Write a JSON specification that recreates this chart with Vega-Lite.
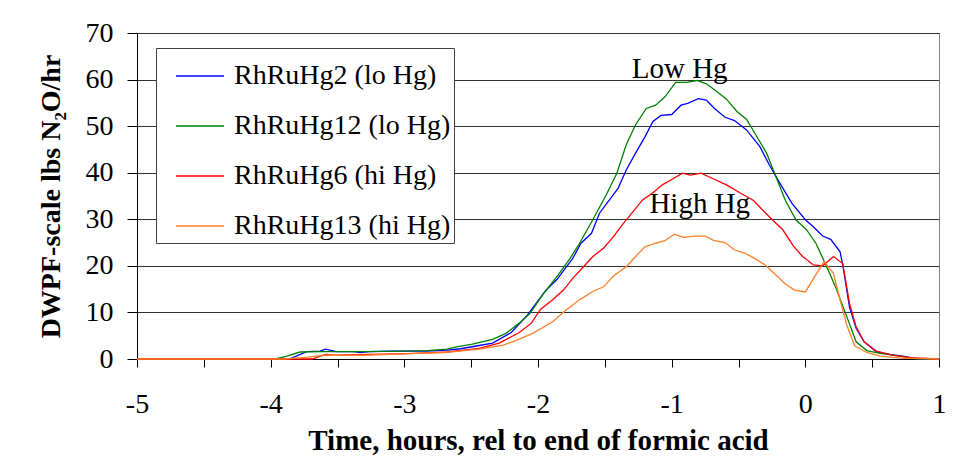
{
  "$schema": "https://vega.github.io/schema/vega-lite/v6.json",
  "width": 802,
  "height": 326,
  "autosize": "none",
  "padding": {"left": 137, "top": 33, "right": 20, "bottom": 101},
  "background": "white",
  "config": {"font": "Liberation Serif", "view": {"stroke": "#808080", "strokeWidth": 1}},
  "datasets": {
    "curves": [
      {"s": "RhRuHg2 (lo Hg)", "t": -5, "v": 0}, {"s": "RhRuHg2 (lo Hg)", "t": -4.5, "v": 0}, {"s": "RhRuHg2 (lo Hg)", "t": -4.0, "v": 0}, {"s": "RhRuHg2 (lo Hg)", "t": -3.86, "v": 0}, {"s": "RhRuHg2 (lo Hg)", "t": -3.73, "v": 1.6}, {"s": "RhRuHg2 (lo Hg)", "t": -3.63, "v": 1.7}, {"s": "RhRuHg2 (lo Hg)", "t": -3.59, "v": 2.1}, {"s": "RhRuHg2 (lo Hg)", "t": -3.51, "v": 1.6}, {"s": "RhRuHg2 (lo Hg)", "t": -3.38, "v": 1.6}, {"s": "RhRuHg2 (lo Hg)", "t": -3.33, "v": 1.4}, {"s": "RhRuHg2 (lo Hg)", "t": -3.26, "v": 1.6}, {"s": "RhRuHg2 (lo Hg)", "t": -3.1, "v": 1.7}, {"s": "RhRuHg2 (lo Hg)", "t": -2.95, "v": 1.7}, {"s": "RhRuHg2 (lo Hg)", "t": -2.83, "v": 1.7}, {"s": "RhRuHg2 (lo Hg)", "t": -2.68, "v": 1.9}, {"s": "RhRuHg2 (lo Hg)", "t": -2.58, "v": 2.2}, {"s": "RhRuHg2 (lo Hg)", "t": -2.44, "v": 2.9}, {"s": "RhRuHg2 (lo Hg)", "t": -2.34, "v": 3.4}, {"s": "RhRuHg2 (lo Hg)", "t": -2.2, "v": 5.7}, {"s": "RhRuHg2 (lo Hg)", "t": -2.08, "v": 9.4}, {"s": "RhRuHg2 (lo Hg)", "t": -1.94, "v": 14.8}, {"s": "RhRuHg2 (lo Hg)", "t": -1.86, "v": 17.0}, {"s": "RhRuHg2 (lo Hg)", "t": -1.74, "v": 21.6}, {"s": "RhRuHg2 (lo Hg)", "t": -1.68, "v": 24.8}, {"s": "RhRuHg2 (lo Hg)", "t": -1.6, "v": 27.0}, {"s": "RhRuHg2 (lo Hg)", "t": -1.54, "v": 31.3}, {"s": "RhRuHg2 (lo Hg)", "t": -1.4, "v": 36.7}, {"s": "RhRuHg2 (lo Hg)", "t": -1.34, "v": 40.6}, {"s": "RhRuHg2 (lo Hg)", "t": -1.27, "v": 44.2}, {"s": "RhRuHg2 (lo Hg)", "t": -1.2, "v": 47.7}, {"s": "RhRuHg2 (lo Hg)", "t": -1.14, "v": 51.0}, {"s": "RhRuHg2 (lo Hg)", "t": -1.08, "v": 52.3}, {"s": "RhRuHg2 (lo Hg)", "t": -1.0, "v": 52.5}, {"s": "RhRuHg2 (lo Hg)", "t": -0.93, "v": 54.5}, {"s": "RhRuHg2 (lo Hg)", "t": -0.88, "v": 54.9}, {"s": "RhRuHg2 (lo Hg)", "t": -0.8, "v": 55.9}, {"s": "RhRuHg2 (lo Hg)", "t": -0.74, "v": 55.6}, {"s": "RhRuHg2 (lo Hg)", "t": -0.68, "v": 53.8}, {"s": "RhRuHg2 (lo Hg)", "t": -0.6, "v": 51.9}, {"s": "RhRuHg2 (lo Hg)", "t": -0.53, "v": 51.2}, {"s": "RhRuHg2 (lo Hg)", "t": -0.44, "v": 49.2}, {"s": "RhRuHg2 (lo Hg)", "t": -0.34, "v": 45.6}, {"s": "RhRuHg2 (lo Hg)", "t": -0.27, "v": 41.7}, {"s": "RhRuHg2 (lo Hg)", "t": -0.19, "v": 37.7}, {"s": "RhRuHg2 (lo Hg)", "t": -0.1, "v": 33.4}, {"s": "RhRuHg2 (lo Hg)", "t": 0.0, "v": 29.9}, {"s": "RhRuHg2 (lo Hg)", "t": 0.06, "v": 28.4}, {"s": "RhRuHg2 (lo Hg)", "t": 0.13, "v": 26.4}, {"s": "RhRuHg2 (lo Hg)", "t": 0.19, "v": 25.7}, {"s": "RhRuHg2 (lo Hg)", "t": 0.26, "v": 23.0}, {"s": "RhRuHg2 (lo Hg)", "t": 0.28, "v": 20.2}, {"s": "RhRuHg2 (lo Hg)", "t": 0.33, "v": 11.2}, {"s": "RhRuHg2 (lo Hg)", "t": 0.38, "v": 6.6}, {"s": "RhRuHg2 (lo Hg)", "t": 0.44, "v": 3.7}, {"s": "RhRuHg2 (lo Hg)", "t": 0.53, "v": 1.6}, {"s": "RhRuHg2 (lo Hg)", "t": 0.63, "v": 1.0}, {"s": "RhRuHg2 (lo Hg)", "t": 0.73, "v": 0.6}, {"s": "RhRuHg2 (lo Hg)", "t": 0.83, "v": 0.1}, {"s": "RhRuHg2 (lo Hg)", "t": 1.0, "v": 0},

      {"s": "RhRuHg12 (lo Hg)", "t": -5, "v": 0}, {"s": "RhRuHg12 (lo Hg)", "t": -4.5, "v": 0}, {"s": "RhRuHg12 (lo Hg)", "t": -3.96, "v": 0}, {"s": "RhRuHg12 (lo Hg)", "t": -3.88, "v": 0.6}, {"s": "RhRuHg12 (lo Hg)", "t": -3.78, "v": 1.5}, {"s": "RhRuHg12 (lo Hg)", "t": -3.63, "v": 1.6}, {"s": "RhRuHg12 (lo Hg)", "t": -3.45, "v": 1.6}, {"s": "RhRuHg12 (lo Hg)", "t": -3.28, "v": 1.6}, {"s": "RhRuHg12 (lo Hg)", "t": -3.03, "v": 1.7}, {"s": "RhRuHg12 (lo Hg)", "t": -2.83, "v": 1.8}, {"s": "RhRuHg12 (lo Hg)", "t": -2.68, "v": 2.1}, {"s": "RhRuHg12 (lo Hg)", "t": -2.61, "v": 2.6}, {"s": "RhRuHg12 (lo Hg)", "t": -2.49, "v": 3.2}, {"s": "RhRuHg12 (lo Hg)", "t": -2.34, "v": 4.2}, {"s": "RhRuHg12 (lo Hg)", "t": -2.24, "v": 5.5}, {"s": "RhRuHg12 (lo Hg)", "t": -2.14, "v": 7.7}, {"s": "RhRuHg12 (lo Hg)", "t": -2.06, "v": 9.8}, {"s": "RhRuHg12 (lo Hg)", "t": -1.96, "v": 14.0}, {"s": "RhRuHg12 (lo Hg)", "t": -1.85, "v": 18.0}, {"s": "RhRuHg12 (lo Hg)", "t": -1.76, "v": 21.6}, {"s": "RhRuHg12 (lo Hg)", "t": -1.69, "v": 24.8}, {"s": "RhRuHg12 (lo Hg)", "t": -1.59, "v": 29.9}, {"s": "RhRuHg12 (lo Hg)", "t": -1.49, "v": 35.2}, {"s": "RhRuHg12 (lo Hg)", "t": -1.41, "v": 39.9}, {"s": "RhRuHg12 (lo Hg)", "t": -1.34, "v": 46.0}, {"s": "RhRuHg12 (lo Hg)", "t": -1.27, "v": 50.3}, {"s": "RhRuHg12 (lo Hg)", "t": -1.19, "v": 53.8}, {"s": "RhRuHg12 (lo Hg)", "t": -1.12, "v": 54.5}, {"s": "RhRuHg12 (lo Hg)", "t": -1.05, "v": 56.3}, {"s": "RhRuHg12 (lo Hg)", "t": -0.97, "v": 59.4}, {"s": "RhRuHg12 (lo Hg)", "t": -0.89, "v": 59.4}, {"s": "RhRuHg12 (lo Hg)", "t": -0.81, "v": 59.8}, {"s": "RhRuHg12 (lo Hg)", "t": -0.74, "v": 59.1}, {"s": "RhRuHg12 (lo Hg)", "t": -0.67, "v": 57.6}, {"s": "RhRuHg12 (lo Hg)", "t": -0.59, "v": 55.8}, {"s": "RhRuHg12 (lo Hg)", "t": -0.51, "v": 53.1}, {"s": "RhRuHg12 (lo Hg)", "t": -0.44, "v": 51.5}, {"s": "RhRuHg12 (lo Hg)", "t": -0.37, "v": 48.1}, {"s": "RhRuHg12 (lo Hg)", "t": -0.29, "v": 44.2}, {"s": "RhRuHg12 (lo Hg)", "t": -0.23, "v": 39.9}, {"s": "RhRuHg12 (lo Hg)", "t": -0.15, "v": 34.1}, {"s": "RhRuHg12 (lo Hg)", "t": -0.07, "v": 29.9}, {"s": "RhRuHg12 (lo Hg)", "t": 0.01, "v": 27.7}, {"s": "RhRuHg12 (lo Hg)", "t": 0.08, "v": 24.8}, {"s": "RhRuHg12 (lo Hg)", "t": 0.16, "v": 19.8}, {"s": "RhRuHg12 (lo Hg)", "t": 0.23, "v": 15.2}, {"s": "RhRuHg12 (lo Hg)", "t": 0.31, "v": 9.1}, {"s": "RhRuHg12 (lo Hg)", "t": 0.38, "v": 3.7}, {"s": "RhRuHg12 (lo Hg)", "t": 0.46, "v": 1.8}, {"s": "RhRuHg12 (lo Hg)", "t": 0.56, "v": 1.2}, {"s": "RhRuHg12 (lo Hg)", "t": 0.71, "v": 0.6}, {"s": "RhRuHg12 (lo Hg)", "t": 0.81, "v": 0.1}, {"s": "RhRuHg12 (lo Hg)", "t": 1.0, "v": 0},

      {"s": "RhRuHg6 (hi Hg)", "t": -5, "v": 0}, {"s": "RhRuHg6 (hi Hg)", "t": -4.5, "v": 0}, {"s": "RhRuHg6 (hi Hg)", "t": -3.69, "v": 0}, {"s": "RhRuHg6 (hi Hg)", "t": -3.59, "v": 1.0}, {"s": "RhRuHg6 (hi Hg)", "t": -3.5, "v": 0.8}, {"s": "RhRuHg6 (hi Hg)", "t": -3.28, "v": 1.0}, {"s": "RhRuHg6 (hi Hg)", "t": -3.03, "v": 1.1}, {"s": "RhRuHg6 (hi Hg)", "t": -2.83, "v": 1.3}, {"s": "RhRuHg6 (hi Hg)", "t": -2.68, "v": 1.5}, {"s": "RhRuHg6 (hi Hg)", "t": -2.44, "v": 2.3}, {"s": "RhRuHg6 (hi Hg)", "t": -2.29, "v": 3.4}, {"s": "RhRuHg6 (hi Hg)", "t": -2.14, "v": 5.7}, {"s": "RhRuHg6 (hi Hg)", "t": -2.05, "v": 7.7}, {"s": "RhRuHg6 (hi Hg)", "t": -1.98, "v": 10.7}, {"s": "RhRuHg6 (hi Hg)", "t": -1.89, "v": 12.7}, {"s": "RhRuHg6 (hi Hg)", "t": -1.81, "v": 14.8}, {"s": "RhRuHg6 (hi Hg)", "t": -1.74, "v": 17.3}, {"s": "RhRuHg6 (hi Hg)", "t": -1.66, "v": 19.8}, {"s": "RhRuHg6 (hi Hg)", "t": -1.59, "v": 22.0}, {"s": "RhRuHg6 (hi Hg)", "t": -1.51, "v": 23.8}, {"s": "RhRuHg6 (hi Hg)", "t": -1.44, "v": 26.1}, {"s": "RhRuHg6 (hi Hg)", "t": -1.37, "v": 28.8}, {"s": "RhRuHg6 (hi Hg)", "t": -1.29, "v": 31.6}, {"s": "RhRuHg6 (hi Hg)", "t": -1.22, "v": 34.1}, {"s": "RhRuHg6 (hi Hg)", "t": -1.14, "v": 35.7}, {"s": "RhRuHg6 (hi Hg)", "t": -1.07, "v": 37.4}, {"s": "RhRuHg6 (hi Hg)", "t": -0.99, "v": 38.7}, {"s": "RhRuHg6 (hi Hg)", "t": -0.92, "v": 39.9}, {"s": "RhRuHg6 (hi Hg)", "t": -0.86, "v": 39.5}, {"s": "RhRuHg6 (hi Hg)", "t": -0.78, "v": 39.9}, {"s": "RhRuHg6 (hi Hg)", "t": -0.69, "v": 38.7}, {"s": "RhRuHg6 (hi Hg)", "t": -0.59, "v": 37.4}, {"s": "RhRuHg6 (hi Hg)", "t": -0.49, "v": 35.7}, {"s": "RhRuHg6 (hi Hg)", "t": -0.39, "v": 34.1}, {"s": "RhRuHg6 (hi Hg)", "t": -0.32, "v": 32.0}, {"s": "RhRuHg6 (hi Hg)", "t": -0.24, "v": 29.7}, {"s": "RhRuHg6 (hi Hg)", "t": -0.17, "v": 27.8}, {"s": "RhRuHg6 (hi Hg)", "t": -0.09, "v": 24.3}, {"s": "RhRuHg6 (hi Hg)", "t": -0.02, "v": 22.0}, {"s": "RhRuHg6 (hi Hg)", "t": 0.06, "v": 20.2}, {"s": "RhRuHg6 (hi Hg)", "t": 0.13, "v": 20.0}, {"s": "RhRuHg6 (hi Hg)", "t": 0.21, "v": 22.0}, {"s": "RhRuHg6 (hi Hg)", "t": 0.28, "v": 20.5}, {"s": "RhRuHg6 (hi Hg)", "t": 0.33, "v": 12.0}, {"s": "RhRuHg6 (hi Hg)", "t": 0.38, "v": 6.9}, {"s": "RhRuHg6 (hi Hg)", "t": 0.44, "v": 3.7}, {"s": "RhRuHg6 (hi Hg)", "t": 0.53, "v": 1.7}, {"s": "RhRuHg6 (hi Hg)", "t": 0.66, "v": 0.8}, {"s": "RhRuHg6 (hi Hg)", "t": 0.78, "v": 0.3}, {"s": "RhRuHg6 (hi Hg)", "t": 1.0, "v": 0},

      {"s": "RhRuHg13 (hi Hg)", "t": -5, "v": 0}, {"s": "RhRuHg13 (hi Hg)", "t": -4.5, "v": 0}, {"s": "RhRuHg13 (hi Hg)", "t": -3.9, "v": 0}, {"s": "RhRuHg13 (hi Hg)", "t": -3.72, "v": 0.4}, {"s": "RhRuHg13 (hi Hg)", "t": -3.6, "v": 0.8}, {"s": "RhRuHg13 (hi Hg)", "t": -3.3, "v": 0.8}, {"s": "RhRuHg13 (hi Hg)", "t": -3.1, "v": 1.0}, {"s": "RhRuHg13 (hi Hg)", "t": -2.9, "v": 1.2}, {"s": "RhRuHg13 (hi Hg)", "t": -2.7, "v": 1.4}, {"s": "RhRuHg13 (hi Hg)", "t": -2.44, "v": 2.1}, {"s": "RhRuHg13 (hi Hg)", "t": -2.26, "v": 3.0}, {"s": "RhRuHg13 (hi Hg)", "t": -2.19, "v": 3.7}, {"s": "RhRuHg13 (hi Hg)", "t": -2.04, "v": 5.5}, {"s": "RhRuHg13 (hi Hg)", "t": -1.89, "v": 8.0}, {"s": "RhRuHg13 (hi Hg)", "t": -1.79, "v": 10.5}, {"s": "RhRuHg13 (hi Hg)", "t": -1.69, "v": 12.7}, {"s": "RhRuHg13 (hi Hg)", "t": -1.59, "v": 14.5}, {"s": "RhRuHg13 (hi Hg)", "t": -1.51, "v": 15.5}, {"s": "RhRuHg13 (hi Hg)", "t": -1.44, "v": 17.7}, {"s": "RhRuHg13 (hi Hg)", "t": -1.34, "v": 19.8}, {"s": "RhRuHg13 (hi Hg)", "t": -1.27, "v": 22.0}, {"s": "RhRuHg13 (hi Hg)", "t": -1.2, "v": 24.1}, {"s": "RhRuHg13 (hi Hg)", "t": -1.13, "v": 24.8}, {"s": "RhRuHg13 (hi Hg)", "t": -1.05, "v": 25.4}, {"s": "RhRuHg13 (hi Hg)", "t": -0.98, "v": 26.8}, {"s": "RhRuHg13 (hi Hg)", "t": -0.91, "v": 26.1}, {"s": "RhRuHg13 (hi Hg)", "t": -0.83, "v": 26.4}, {"s": "RhRuHg13 (hi Hg)", "t": -0.75, "v": 26.4}, {"s": "RhRuHg13 (hi Hg)", "t": -0.68, "v": 25.4}, {"s": "RhRuHg13 (hi Hg)", "t": -0.6, "v": 25.0}, {"s": "RhRuHg13 (hi Hg)", "t": -0.53, "v": 23.4}, {"s": "RhRuHg13 (hi Hg)", "t": -0.45, "v": 22.7}, {"s": "RhRuHg13 (hi Hg)", "t": -0.38, "v": 21.6}, {"s": "RhRuHg13 (hi Hg)", "t": -0.3, "v": 20.2}, {"s": "RhRuHg13 (hi Hg)", "t": -0.23, "v": 18.3}, {"s": "RhRuHg13 (hi Hg)", "t": -0.15, "v": 16.1}, {"s": "RhRuHg13 (hi Hg)", "t": -0.08, "v": 14.8}, {"s": "RhRuHg13 (hi Hg)", "t": 0.0, "v": 14.4}, {"s": "RhRuHg13 (hi Hg)", "t": 0.07, "v": 17.7}, {"s": "RhRuHg13 (hi Hg)", "t": 0.14, "v": 20.9}, {"s": "RhRuHg13 (hi Hg)", "t": 0.21, "v": 18.4}, {"s": "RhRuHg13 (hi Hg)", "t": 0.26, "v": 12.7}, {"s": "RhRuHg13 (hi Hg)", "t": 0.31, "v": 7.3}, {"s": "RhRuHg13 (hi Hg)", "t": 0.37, "v": 2.8}, {"s": "RhRuHg13 (hi Hg)", "t": 0.46, "v": 1.4}, {"s": "RhRuHg13 (hi Hg)", "t": 0.56, "v": 0.6}, {"s": "RhRuHg13 (hi Hg)", "t": 0.71, "v": 0.2}, {"s": "RhRuHg13 (hi Hg)", "t": 1.0, "v": 0}
    ],
    "notes": [
      {"t": -0.94, "v": 60.3, "label": "Low Hg"},
      {"t": -0.79, "v": 31.35, "label": "High Hg"}
    ]
  },
  "layer": [
    {
      "data": {"name": "curves"},
      "mark": {"type": "line", "strokeWidth": 1.3},
      "encoding": {
        "x": {
          "field": "t", "type": "quantitative",
          "scale": {"domain": [-5, 1], "nice": false, "zero": false},
          "axis": {
            "values": [-5, -4.5, -4, -3.5, -3, -2.5, -2, -1.5, -1, -0.5, 0, 0.5, 1],
            "labelExpr": "datum.value % 1 === 0 ? toString(datum.value) : ''",
            "grid": false, "tickSize": 8, "tickColor": "#000", "domainColor": "#000",
            "labelFontSize": 28, "labelColor": "#000", "labelPadding": 23, "labelFlush": false,
            "labelFont": "Liberation Serif",
            "title": "Time, hours, rel to end of formic acid",
            "titleFont": "Liberation Serif", "titleFontSize": 29, "titleFontWeight": "bold",
            "titleColor": "#000", "titlePadding": 8
          }
        },
        "y": {
          "field": "v", "type": "quantitative",
          "scale": {"domain": [0, 70], "nice": false},
          "axis": {
            "values": [0, 10, 20, 30, 40, 50, 60, 70],
            "grid": true, "gridColor": "#333", "gridWidth": 1,
            "tickSize": 10, "tickColor": "#000", "domainColor": "#000",
            "labelFontSize": 28, "labelColor": "#000", "labelPadding": 14,
            "labelFont": "Liberation Serif",
            "title": "DWPF-scale lbs N₂O/hr",
            "titleFont": "Liberation Serif", "titleFontSize": 28, "titleFontWeight": "bold",
            "titleColor": "#000", "titlePadding": 20
          }
        },
        "color": {
          "field": "s", "type": "nominal",
          "scale": {
            "domain": ["RhRuHg2 (lo Hg)", "RhRuHg12 (lo Hg)", "RhRuHg6 (hi Hg)", "RhRuHg13 (hi Hg)"],
            "range": ["#0000ff", "#008000", "#ff0000", "#ff7f27"]
          },
          "legend": {
            "orient": "none", "legendX": 19, "legendY": 15, "title": null,
            "labelFont": "Liberation Serif", "labelFontSize": 28, "labelColor": "#000",
            "labelLimit": 0, "labelOffset": 9,
            "symbolType": "stroke", "symbolSize": 2304, "symbolStrokeWidth": 1.5,
            "fillColor": "white", "strokeColor": "#404040",
            "padding": 3, "rowPadding": 11, "symbolOffset": 16
          }
        }
      }
    },
    {
      "data": {"name": "notes"},
      "mark": {"type": "text", "font": "Liberation Serif", "fontSize": 29, "baseline": "alphabetic", "align": "center", "color": "#000"},
      "encoding": {
        "x": {"field": "t", "type": "quantitative"},
        "y": {"field": "v", "type": "quantitative"},
        "text": {"field": "label"}
      }
    }
  ]
}
